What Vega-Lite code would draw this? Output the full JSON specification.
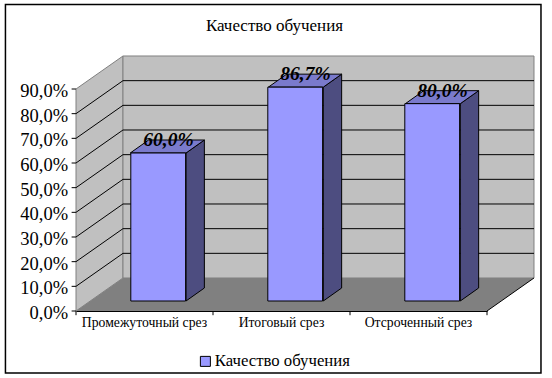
{
"$schema":"https://vega.github.io/schema/vega-lite/v6.json",
"width":411,"height":222,
"autosize":{"type":"none"},
"padding":{"left":76,"top":89,"right":65,"bottom":67},
"background":"white",
"config":{"view":{"stroke":null},"font":"Liberation Serif"},
"title":{"text":"Качество обучения","font":"Liberation Serif","fontSize":17,"fontWeight":"normal","color":"black","anchor":"middle","dx":-7,"offset":-31},
"datasets":{
"bars":[
{"category":"Промежуточный срез","value":60.0,"label":"60,0%"},
{"category":"Итоговый срез","value":86.7,"label":"86,7%"},
{"category":"Отсроченный срез","value":80.0,"label":"80,0%"}],
"frame":[{"x":-0.515,"x2":3.394,"y":-25.1,"y2":124.25}],
"walls":[
{"face":"left","x":0,"y":0,"y2":90},
{"face":"left","x":0.343,"y":13.38,"y2":103.38},
{"face":"back","x":0.343,"y":13.38,"y2":103.38},
{"face":"back","x":3.343,"y":13.38,"y2":103.38}],
"floor":[
{"x":0,"y":0,"y2":0},
{"x":0.343,"y":0,"y2":13.38},
{"x":3,"y":0,"y2":13.38},
{"x":3.343,"y":13.38,"y2":13.38}],
"edge":[{"x":3,"y":0},{"x":3.343,"y":13.38}],
"grid":[
{"v":10,"x":0,"y":10},{"v":10,"x":0.343,"y":23.38},{"v":10,"x":3.343,"y":23.38},
{"v":20,"x":0,"y":20},{"v":20,"x":0.343,"y":33.38},{"v":20,"x":3.343,"y":33.38},
{"v":30,"x":0,"y":30},{"v":30,"x":0.343,"y":43.38},{"v":30,"x":3.343,"y":43.38},
{"v":40,"x":0,"y":40},{"v":40,"x":0.343,"y":53.38},{"v":40,"x":3.343,"y":53.38},
{"v":50,"x":0,"y":50},{"v":50,"x":0.343,"y":63.38},{"v":50,"x":3.343,"y":63.38},
{"v":60,"x":0,"y":60},{"v":60,"x":0.343,"y":73.38},{"v":60,"x":3.343,"y":73.38},
{"v":70,"x":0,"y":70},{"v":70,"x":0.343,"y":83.38},{"v":70,"x":3.343,"y":83.38},
{"v":80,"x":0,"y":80},{"v":80,"x":0.343,"y":93.38},{"v":80,"x":3.343,"y":93.38}],
"sides":[
{"bar":1,"x":0.803,"y":4.05,"y2":64.05},{"bar":1,"x":0.937,"y":9.32,"y2":69.32},
{"bar":2,"x":1.805,"y":4.05,"y2":90.75},{"bar":2,"x":1.939,"y":9.32,"y2":96.02},
{"bar":3,"x":2.805,"y":4.05,"y2":84.05},{"bar":3,"x":2.939,"y":9.32,"y2":89.32}],
"tops":[
{"bar":1,"x":0.396,"y":64.05,"y2":64.05},{"bar":1,"x":0.53,"y":64.05,"y2":69.32},{"bar":1,"x":0.803,"y":64.05,"y2":69.32},{"bar":1,"x":0.937,"y":69.32,"y2":69.32},
{"bar":2,"x":1.404,"y":90.75,"y2":90.75},{"bar":2,"x":1.538,"y":90.75,"y2":96.02},{"bar":2,"x":1.805,"y":90.75,"y2":96.02},{"bar":2,"x":1.939,"y":96.02,"y2":96.02},
{"bar":3,"x":2.404,"y":84.05,"y2":84.05},{"bar":3,"x":2.538,"y":84.05,"y2":89.32},{"bar":3,"x":2.805,"y":84.05,"y2":89.32},{"bar":3,"x":2.939,"y":89.32,"y2":89.32}],
"yticks":[
{"v":0,"tick":"0,0%","x":-0.032,"x2":0,"lx":-0.058},
{"v":10,"tick":"10,0%","x":-0.032,"x2":0,"lx":-0.058},
{"v":20,"tick":"20,0%","x":-0.032,"x2":0,"lx":-0.058},
{"v":30,"tick":"30,0%","x":-0.032,"x2":0,"lx":-0.058},
{"v":40,"tick":"40,0%","x":-0.032,"x2":0,"lx":-0.058},
{"v":50,"tick":"50,0%","x":-0.032,"x2":0,"lx":-0.058},
{"v":60,"tick":"60,0%","x":-0.032,"x2":0,"lx":-0.058},
{"v":70,"tick":"70,0%","x":-0.032,"x2":0,"lx":-0.058},
{"v":80,"tick":"80,0%","x":-0.032,"x2":0,"lx":-0.058},
{"v":90,"tick":"90,0%","x":-0.032,"x2":0,"lx":-0.058}],
"xticks":[{"x":0,"y":0,"y2":-1.7},{"x":1,"y":0,"y2":-1.7},{"x":2,"y":0,"y2":-1.7},{"x":3,"y":0,"y2":-1.7}]
},
"resolve":{"scale":{"x":"independent"}},
"layer":[
{"data":{"name":"frame"},"mark":{"type":"rect","fill":"transparent","stroke":"black","strokeWidth":1.5},
"encoding":{"x":{"field":"x","type":"quantitative","scale":{"domain":[0,3]},"axis":null},"x2":{"field":"x2"},
"y":{"field":"y","type":"quantitative","scale":{"domain":[0,90]},"axis":null},"y2":{"field":"y2"}}},
{"data":{"name":"walls"},"mark":{"type":"area","fill":"#C0C0C0","stroke":"#808080","strokeWidth":1},
"encoding":{"detail":{"field":"face"},"x":{"field":"x","type":"quantitative","scale":{"domain":[0,3]},"axis":null},
"y":{"field":"y","type":"quantitative","scale":{"domain":[0,90]}},"y2":{"field":"y2"}}},
{"data":{"name":"grid"},"mark":{"type":"line","color":"black","strokeWidth":1},
"encoding":{"detail":{"field":"v"},"x":{"field":"x","type":"quantitative","scale":{"domain":[0,3]},"axis":null},
"y":{"field":"y","type":"quantitative","scale":{"domain":[0,90]}}}},
{"data":{"name":"floor"},"mark":{"type":"area","fill":"#808080"},
"encoding":{"x":{"field":"x","type":"quantitative","scale":{"domain":[0,3]},"axis":null},
"y":{"field":"y","type":"quantitative","scale":{"domain":[0,90]}},"y2":{"field":"y2"}}},
{"data":{"name":"edge"},"mark":{"type":"line","color":"black","strokeWidth":1},
"encoding":{"x":{"field":"x","type":"quantitative","scale":{"domain":[0,3]},"axis":null},
"y":{"field":"y","type":"quantitative","scale":{"domain":[0,90]}}}},
{"data":{"name":"sides"},"mark":{"type":"area","fill":"#4D4D80","stroke":"black","strokeWidth":1},
"encoding":{"detail":{"field":"bar"},"x":{"field":"x","type":"quantitative","scale":{"domain":[0,3]},"axis":null},
"y":{"field":"y","type":"quantitative","scale":{"domain":[0,90]}},"y2":{"field":"y2"}}},
{"data":{"name":"tops"},"mark":{"type":"area","fill":"#7A7ACC","stroke":"black","strokeWidth":1},
"encoding":{"detail":{"field":"bar"},"x":{"field":"x","type":"quantitative","scale":{"domain":[0,3]},"axis":null},
"y":{"field":"y","type":"quantitative","scale":{"domain":[0,90]}},"y2":{"field":"y2"}}},
{"data":{"name":"bars"},"mark":{"type":"bar","stroke":"black","strokeWidth":1,"xOffset":13.7,"x2Offset":13.7,"yOffset":-10,"y2Offset":-10},
"encoding":{
"x":{"field":"category","type":"nominal","sort":null,"scale":{"type":"band","paddingInner":0.6,"paddingOuter":0.3},
"axis":{"title":null,"labelAngle":0,"labelFont":"Liberation Serif","labelFontSize":13.7,"labelColor":"black","labelPadding":4,"ticks":false,"domain":true,"domainColor":"black","labelOverlap":false,"zindex":1}},
"y":{"field":"value","type":"quantitative","scale":{"domain":[0,90]}},
"color":{"datum":"Качество обучения","scale":{"range":["#9999FF"]},
"legend":{"title":null,"orient":"none","legendX":121,"legendY":264,"symbolType":"square","symbolSize":100,"symbolStrokeColor":"black","symbolStrokeWidth":1,"labelFont":"Liberation Serif","labelFontSize":16.75,"labelOffset":1,"labelColor":"black"}}}},
{"data":{"name":"bars"},"mark":{"type":"text","font":"Liberation Serif","fontSize":19.5,"fontWeight":"bold","fontStyle":"italic","color":"black","baseline":"middle","align":"center","dx":24,"dy":-23},
"encoding":{"x":{"field":"category","type":"nominal","sort":null,"scale":{"type":"band","paddingInner":0.6,"paddingOuter":0.3},"axis":null},
"y":{"field":"value","type":"quantitative","scale":{"domain":[0,90]}},
"text":{"field":"label"}}},
{"data":{"name":"yticks"},"mark":{"type":"rule","color":"black","strokeWidth":1},
"encoding":{"x":{"field":"x","type":"quantitative","scale":{"domain":[0,3]},"axis":null},"x2":{"field":"x2"},
"y":{"field":"v","type":"quantitative","scale":{"domain":[0,90]}}}},
{"data":{"name":"yticks"},"mark":{"type":"text","font":"Liberation Serif","fontSize":18.5,"color":"black","align":"right","baseline":"middle","dy":2},
"encoding":{"x":{"field":"lx","type":"quantitative","scale":{"domain":[0,3]},"axis":null},
"y":{"field":"v","type":"quantitative","scale":{"domain":[0,90]}},"text":{"field":"tick"}}},
{"data":{"name":"xticks"},"mark":{"type":"rule","color":"black","strokeWidth":1},
"encoding":{"x":{"field":"x","type":"quantitative","scale":{"domain":[0,3]},"axis":null},
"y":{"field":"y","type":"quantitative","scale":{"domain":[0,90]}},"y2":{"field":"y2"}}}
]
}
